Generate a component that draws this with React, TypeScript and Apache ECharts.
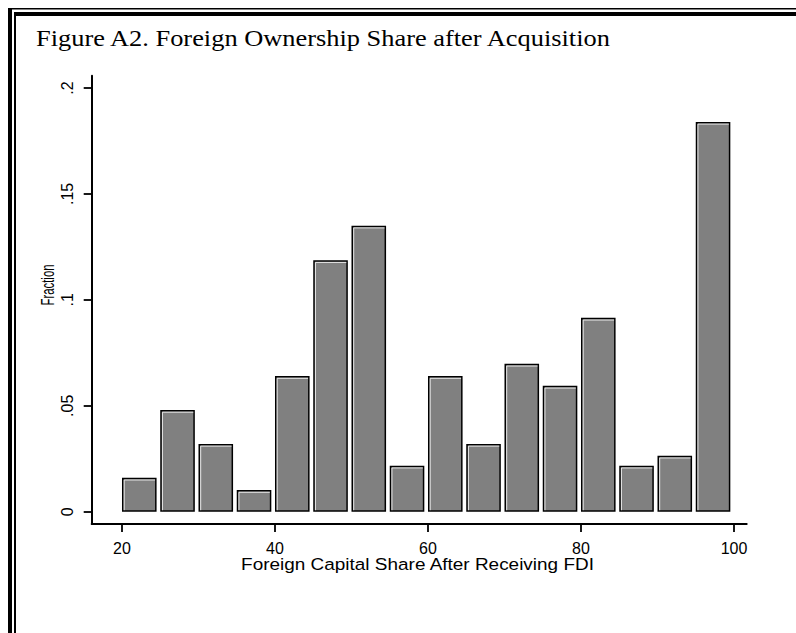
import React, { useEffect, useRef } from "react";
import * as echarts from "echarts";

const binStarts: number[] = [20, 25, 30, 35, 40, 45, 50, 55, 60, 65, 70, 75, 80, 85, 90, 95];
const fractions: number[] = [
  0.016, 0.048, 0.032, 0.0102, 0.064, 0.1187, 0.135, 0.0217,
  0.064, 0.032, 0.0698, 0.0594, 0.0915, 0.0217, 0.0264, 0.184,
];
const xTicks: number[] = [20, 40, 60, 80, 100];
const yTicks: number[] = [0, 0.05, 0.1, 0.15, 0.2];
const titleText = "Figure A2. Foreign Ownership Share after Acquisition";
const xTitle = "Foreign Capital Share After Receiving FDI";
const yTitle = "Fraction";

const BAR_W = 4.52;

export default function App() {
  const ref = useRef<HTMLDivElement>(null);
  useEffect(() => {
    document.body.style.margin = "0";
    if (!ref.current) return;
    const chart = echarts.init(ref.current, null, { renderer: "svg" });
    const data = binStarts.map((b, i) => [b, fractions[i]]);
    chart.setOption({
      animation: false,
      backgroundColor: "#fff",
      grid: { left: 91.7, right: 49.3, top: 75.7, bottom: 109, containLabel: false },
      xAxis: {
        type: "value",
        min: 16.04,
        max: 101.66,
        splitLine: { show: false },
        axisLine: { show: true, onZero: false, lineStyle: { color: "#000", width: 2 } },
        axisTick: { show: true, length: 8, customValues: xTicks, lineStyle: { color: "#000", width: 1.8 } },
        axisLabel: {
          customValues: xTicks,
          margin: 16,
          color: "#000",
          fontSize: 16,
          fontFamily: "Liberation Sans, Arial, sans-serif",
        },
      },
      yAxis: {
        type: "value",
        min: -0.0058,
        max: 0.2058,
        splitLine: { show: false },
        axisLine: { show: true, onZero: false, lineStyle: { color: "#000", width: 2 } },
        axisTick: { show: true, length: 8, customValues: yTicks, lineStyle: { color: "#000", width: 1.8 } },
        axisLabel: {
          customValues: yTicks,
          rotate: 90,
          margin: 16,
          color: "#000",
          fontSize: 16,
          fontFamily: "Liberation Sans, Arial, sans-serif",
          formatter: (v: number) => (v === 0 ? "0" : String(v).replace(/^0/, "")),
        },
      },
      series: [
        {
          type: "custom",
          data,
          clip: false,
          renderItem: (params: any, api: any) => {
            const x0 = api.value(0);
            const v = api.value(1);
            const p0 = api.coord([x0, 0]);
            const p1 = api.coord([x0 + BAR_W, v]);
            const x = p0[0];
            const y = p1[1];
            const w = p1[0] - p0[0];
            const h = p0[1] - p1[1];
            return {
              type: "group",
              children: [
                {
                  type: "rect",
                  shape: { x: x + 0.75, y: y + 0.75, width: w - 1.5, height: h - 1.5 },
                  style: { fill: "#808080", stroke: "#000", lineWidth: 1.5 },
                },
                {
                  type: "polyline",
                  shape: {
                    points: [
                      [x + 2.2, y + h - 1.5],
                      [x + 2.2, y + 2.2],
                      [x + w - 1.5, y + 2.2],
                    ],
                  },
                  style: { stroke: "#fff", lineWidth: 0.8, fill: null },
                },
              ],
            };
          },
        },
      ],
      graphic: [
        { type: "rect", shape: { x: 8, y: 8, width: 788, height: 1.5 }, style: { fill: "#000" } },
        { type: "rect", shape: { x: 8, y: 8, width: 4, height: 625 }, style: { fill: "#000" } },
        { type: "rect", shape: { x: 14, y: 12, width: 782, height: 4 }, style: { fill: "#000" } },
        { type: "rect", shape: { x: 14, y: 12, width: 2, height: 621 }, style: { fill: "#000" } },
        {
          type: "text",
          x: 36,
          y: 37.5,
          scaleX: 1.1,
          style: {
            text: titleText,
            fill: "#000",
            fontSize: 24,
            fontFamily: "Liberation Serif, Times New Roman, serif",
            align: "left",
            verticalAlign: "middle",
          },
        },
        {
          type: "text",
          x: 417.5,
          y: 564,
          scaleX: 1.115,
          style: {
            text: xTitle,
            fill: "#000",
            fontSize: 17,
            fontFamily: "Liberation Sans, Arial, sans-serif",
            align: "center",
            verticalAlign: "middle",
          },
        },
        {
          type: "text",
          x: 47,
          y: 285,
          rotation: Math.PI / 2,
          scaleX: 0.6,
          style: {
            text: yTitle,
            fill: "#000",
            fontSize: 19,
            fontFamily: "Liberation Sans, Arial, sans-serif",
            align: "center",
            verticalAlign: "middle",
          },
        },
      ],
    });
    return () => chart.dispose();
  }, []);
  return <div ref={ref} style={{ width: 796, height: 633 }} />;
}
